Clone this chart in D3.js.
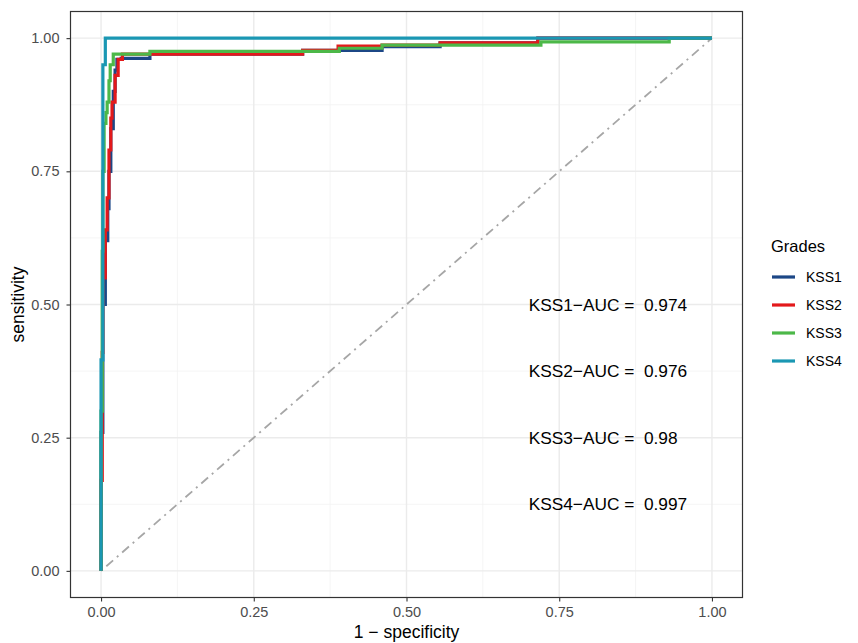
<!DOCTYPE html>
<html>
<head>
<meta charset="utf-8">
<script src="https://cdn.jsdelivr.net/npm/d3@7"></script>
<style>
  body { margin: 0; background: #fff; }
  text { font-family: "Liberation Sans", Arial, sans-serif; }
</style>
</head>
<body>
<div id="chart"></div>
<script>
// ROC curve knots: at each fpr the curve rises to tpr (step after)
var grades = ["KSS1", "KSS2", "KSS3", "KSS4"]
var colors = ["#1c4786", "#e3191b", "#4cb848", "#1a97b3"]

var kss1Fpr = [0, 0.003, 0.007, 0.011, 0.013, 0.016, 0.02, 0.023, 0.026, 0.033, 0.08, 0.33, 0.46, 0.555, 0.715, 1]
var kss1Tpr = [0.26, 0.5, 0.62, 0.68, 0.75, 0.83, 0.9, 0.94, 0.96, 0.962, 0.970, 0.977, 0.984, 0.991, 1, 1]

var kss2Fpr = [0, 0.002, 0.003, 0.007, 0.010, 0.013, 0.016, 0.018, 0.023, 0.028, 0.035, 0.33, 0.388, 0.46, 0.555, 0.715, 1]
var kss2Tpr = [0.17, 0.41, 0.55, 0.64, 0.70, 0.79, 0.85, 0.88, 0.93, 0.96, 0.970, 0.977, 0.985, 0.987, 0.991, 1, 1]

var kss3Fpr = [0, 0.002, 0.003, 0.005, 0.008, 0.010, 0.013, 0.015, 0.020, 0.08, 0.39, 0.46, 0.72, 0.93, 1]
var kss3Tpr = [0.3, 0.6, 0.75, 0.84, 0.86, 0.88, 0.92, 0.95, 0.970, 0.975, 0.981, 0.987, 0.993, 1, 1]

var kss4Fpr = [0, 0.003, 0.007, 1]
var kss4Tpr = [0.396, 0.95, 1, 1]

var aucValues = ["0.974", "0.976", "0.98", "0.997"]
var aucY = [0.5, 0.375, 0.25, 0.125]

var ticks = [0, 0.25, 0.5, 0.75, 1]
var minorTicks = [0.125, 0.375, 0.625, 0.875]

var series = [
  {key: "KSS1", fpr: kss1Fpr, tpr: kss1Tpr},
  {key: "KSS2", fpr: kss2Fpr, tpr: kss2Tpr},
  {key: "KSS3", fpr: kss3Fpr, tpr: kss3Tpr},
  {key: "KSS4", fpr: kss4Fpr, tpr: kss4Tpr}
]

var W = 858, H = 643
var panel = {left: 70.5, right: 742.5, top: 11.5, bottom: 597.5}

var svg = d3.select("#chart").append("svg")
  .attr("width", W).attr("height", H)

// ggplot style 5% expansion
var x = d3.scaleLinear().domain([-0.05, 1.05]).range([panel.left, panel.right])
var y = d3.scaleLinear().domain([-0.05, 1.05]).range([panel.bottom, panel.top])

var color = d3.scaleOrdinal().domain(grades).range(colors)

// grid
var grid = svg.append("g")
grid.selectAll(".minx").data(minorTicks).enter().append("line")
  .attr("x1", d => x(d)).attr("x2", d => x(d))
  .attr("y1", panel.top).attr("y2", panel.bottom)
  .attr("stroke", "#f2f2f2").attr("stroke-width", 0.8)
grid.selectAll(".miny").data(minorTicks).enter().append("line")
  .attr("y1", d => y(d)).attr("y2", d => y(d))
  .attr("x1", panel.left).attr("x2", panel.right)
  .attr("stroke", "#f2f2f2").attr("stroke-width", 0.8)
grid.selectAll(".majx").data(ticks).enter().append("line")
  .attr("x1", d => x(d)).attr("x2", d => x(d))
  .attr("y1", panel.top).attr("y2", panel.bottom)
  .attr("stroke", "#ebebeb").attr("stroke-width", 1.4)
grid.selectAll(".majy").data(ticks).enter().append("line")
  .attr("y1", d => y(d)).attr("y2", d => y(d))
  .attr("x1", panel.left).attr("x2", panel.right)
  .attr("stroke", "#ebebeb").attr("stroke-width", 1.4)

// diagonal reference
svg.append("line")
  .attr("x1", x(0)).attr("y1", y(0))
  .attr("x2", x(1)).attr("y2", y(1))
  .attr("stroke", "#a6a6a6").attr("stroke-width", 1.8)
  .attr("stroke-dasharray", "2,5,9,5")

// roc curves
var line = d3.line()
  .x(d => x(d[0]))
  .y(d => y(d[1]))
  .curve(d3.curveStepAfter)

svg.selectAll(".roc").data(series).enter().append("path")
  .attr("fill", "none")
  .attr("stroke", d => color(d.key))
  .attr("stroke-width", 3.2)
  .attr("d", d => line([[0, 0]].concat(d.fpr.map((f, i) => [f, d.tpr[i]]))))

// auc labels
svg.selectAll(".auc").data(grades).enter().append("text")
  .attr("x", x(0.7))
  .attr("y", (d, i) => y(aucY[i]))
  .attr("dy", "0.35em")
  .attr("font-size", 17.3)
  .attr("fill", "#000")
  .style("white-space", "pre")
  .text((d, i) => d + "\u2212AUC =  " + aucValues[i])

// panel border
svg.append("rect")
  .attr("x", panel.left).attr("y", panel.top)
  .attr("width", panel.right - panel.left).attr("height", panel.bottom - panel.top)
  .attr("fill", "none").attr("stroke", "#333333").attr("stroke-width", 1.2)

// axes
var xAxis = svg.append("g")
  .attr("transform", "translate(0," + panel.bottom + ")")
  .call(d3.axisBottom(x).tickValues(ticks).tickFormat(d3.format(".2f")).tickSize(4).tickPadding(5))
var yAxis = svg.append("g")
  .attr("transform", "translate(" + panel.left + ",0)")
  .call(d3.axisLeft(y).tickValues(ticks).tickFormat(d3.format(".2f")).tickSize(4).tickPadding(7))

;[xAxis, yAxis].forEach(function(a){
  a.attr("font-size", null)
  a.select(".domain").remove()
  a.selectAll(".tick line").attr("stroke", "#333333").attr("stroke-width", 1.1)
  a.selectAll(".tick text").attr("fill", "#4d4d4d")
    .style("font-size", "14.5px")
    .style("font-family", '"Liberation Sans", Arial, sans-serif')
})

svg.append("text")
  .attr("x", (panel.left + panel.right) / 2).attr("y", 638)
  .attr("text-anchor", "middle").attr("font-size", 17.5)
  .text("1 \u2212 specificity")

svg.append("text")
  .attr("transform", "translate(24," + ((panel.top + panel.bottom) / 2) + ") rotate(-90)")
  .attr("text-anchor", "middle").attr("font-size", 17.5)
  .text("sensitivity")

// legend
var legend = svg.append("g").attr("transform", "translate(771,0)")
legend.append("text").attr("x", 0).attr("y", 252).attr("font-size", 16.5).text("Grades")
var items = legend.selectAll(".item").data(grades).enter().append("g")
  .attr("transform", (d, i) => "translate(0," + (277 + i * 28) + ")")
items.append("line").attr("x1", 1).attr("x2", 24)
  .attr("stroke", d => color(d)).attr("stroke-width", 3.2)
items.append("text").attr("x", 35).attr("dy", "0.35em").attr("font-size", 14)
  .text(d => d)
</script>
</body>
</html>
